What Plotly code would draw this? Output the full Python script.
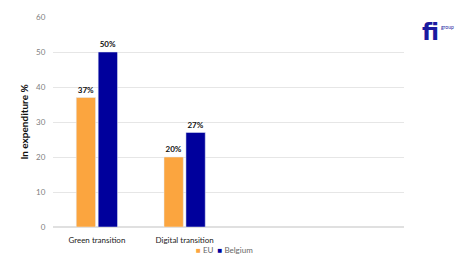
import plotly.graph_objects as go

categories = ["Green transition", "Digital transition", " ", "  "]
eu_values = [37, 20, None, None]
belgium_values = [50, 27, None, None]
y_ticks = [0, 10, 20, 30, 40, 50, 60]
series_names = ["EU", "Belgium"]

EU_COLOR = "#FBA53F"
BE_COLOR = "#00009C"
FONT = "Lato, Open Sans, sans-serif"

fig = go.Figure()
for name, vals, col in [(series_names[0], eu_values, EU_COLOR), (series_names[1], belgium_values, BE_COLOR)]:
    fig.add_trace(go.Bar(
        x=categories, y=vals, name=name, marker_color=col,
        texttemplate="<b>%{y}%</b>", textposition="outside",
        textfont=dict(size=8, color="#111111", family=FONT),
        cliponaxis=False, showlegend=False,
    ))

fig.update_layout(
    width=474, height=267,
    margin=dict(l=53, r=70, t=17, b=40),
    paper_bgcolor="white", plot_bgcolor="white",
    barmode="group", bargap=0.5, bargroupgap=0.12,
    font=dict(family=FONT, size=8, color="#444444"),
    xaxis=dict(type="category", categoryorder="array", categoryarray=categories,
               showgrid=False, showline=False, ticks="outside", ticklen=5, tickcolor="rgba(0,0,0,0)",
               tickfont=dict(size=8, color="#222222", family=FONT)),
    yaxis=dict(range=[0, 60], tickvals=y_ticks, showgrid=True, gridcolor="#E6E6E6",
               gridwidth=1, zeroline=True, zerolinecolor="#E0E0E0",
               ticks="outside", ticklen=5, tickcolor="rgba(0,0,0,0)",
               tickfont=dict(size=8, color="#808080"),
               title=dict(text="<b>In expenditure %</b>", font=dict(size=10, color="#111111"), standoff=5)),
    showlegend=False,
)

legend_text = (f"<span style='color:{EU_COLOR}'>■</span> {series_names[0]}  "
               f"<span style='color:{BE_COLOR}'>■</span> {series_names[1]}")
fig.add_annotation(xref="paper", yref="paper", x=0.49, y=-0.11, xanchor="center", yanchor="middle",
                   text=legend_text, showarrow=False, font=dict(size=8, color="#666666", family=FONT))

fig.add_annotation(xref="paper", yref="paper", x=1.045, y=1.0, xanchor="left", yanchor="top",
                   text="<b>fi</b>", showarrow=False,
                   font=dict(size=23, color="#1A1AA0", family="Arial Black, DejaVu Sans"))
fig.add_annotation(xref="paper", yref="paper", x=1.1, y=0.952, xanchor="left", yanchor="middle",
                   text="group", showarrow=False,
                   font=dict(size=5, color="#1A1AA0", family=FONT))

fig.write_html("out.html")
